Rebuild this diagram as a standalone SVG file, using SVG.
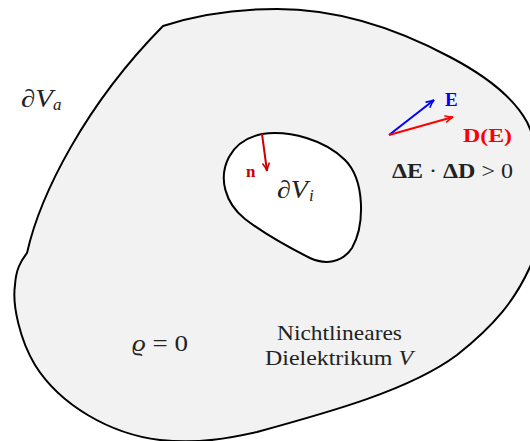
<svg xmlns="http://www.w3.org/2000/svg" width="530" height="441" viewBox="0 0 530 441">
<defs>
<style>
.shape{stroke:#000;stroke-width:2;stroke-linejoin:round}
.math{font-family:"Liberation Serif","DejaVu Serif",serif;fill:#222}
.it{font-style:italic}
.bold{font-weight:bold}
.vec{stroke-width:2;fill:none}
</style>
<marker id="arB" viewBox="0 0 10 10" refX="9" refY="5" markerWidth="10" markerHeight="10" markerUnits="userSpaceOnUse" orient="auto">
<path d="M1,1.5 Q5,4 9,5 Q5,6 1,8.5" fill="none" stroke="#0000ff" stroke-width="1.6"/>
</marker>
<marker id="arR" viewBox="0 0 10 10" refX="9" refY="5" markerWidth="10" markerHeight="10" markerUnits="userSpaceOnUse" orient="auto">
<path d="M1,1.5 Q5,4 9,5 Q5,6 1,8.5" fill="none" stroke="#ff0000" stroke-width="1.6"/>
</marker>
<marker id="arN" viewBox="0 0 10 10" refX="9" refY="5" markerWidth="10" markerHeight="10" markerUnits="userSpaceOnUse" orient="auto">
<path d="M1,1.5 Q5,4 9,5 Q5,6 1,8.5" fill="none" stroke="#cc0000" stroke-width="1.6"/>
</marker>
</defs>
<rect width="530" height="441" fill="#fff"/>
<g id="outer-region">
<path class="shape" fill="#f2f2f2" d="M163,26 C200,14 240,9 277,9 C330,9 390,25 450,57 C490,78 515,100 527,122 C545,160 548,225 530,267 C515,300 495,325 457,355 C410,390 330,412 257,432 C230,438 200,444 160,440 C110,434 60,405 35,365 C20,340 12,305 15,285 C16,270 20,262 27,253 C40,195 85,105 163,26 Z"/>
</g>
<g id="inner-hole">
<path class="shape" fill="#fff" d="M262,134 C290,130 325,140 345,160 C365,180 365,225 352,248 C342,263 325,265 310,258 C290,248 262,232 245,219 C225,203 218,178 229,157 C236,144 248,137 262,134 Z"/>
</g>
<g id="connectors">
<line class="vec" x1="389" y1="135" x2="434" y2="100" stroke="#0000ff" marker-end="url(#arB)"/>
<line class="vec" x1="389" y1="135" x2="453" y2="117" stroke="#ff0000" marker-end="url(#arR)"/>
<line class="vec" x1="262" y1="134" x2="267" y2="171" stroke="#cc0000" marker-end="url(#arN)"/>
</g>
<g id="labels">
<text class="math it" x="21" y="107" font-size="25" textLength="32" lengthAdjust="spacingAndGlyphs">∂V</text>
<text class="math it" x="53" y="110" font-size="17">a</text>
<text class="math it" x="277" y="198" font-size="25" textLength="31" lengthAdjust="spacingAndGlyphs">∂V</text>
<text class="math it" x="309" y="201" font-size="17">i</text>
<text class="math bold" x="246" y="177" font-size="17" style="fill:#cc0000">n</text>
<text class="math bold" x="445" y="106" font-size="19" style="fill:#0000ff">E</text>
<text class="math bold" x="463" y="142" font-size="18" textLength="49" lengthAdjust="spacingAndGlyphs" style="fill:#ff0000">D(E)</text>
<text class="math" x="392" y="178" font-size="20" textLength="121" lengthAdjust="spacingAndGlyphs"><tspan class="bold">ΔE</tspan> · <tspan class="bold">ΔD</tspan> &gt; 0</text>
<text class="math" x="132" y="351" font-size="24" textLength="56" lengthAdjust="spacingAndGlyphs"><tspan class="it">ϱ</tspan> = 0</text>
<text class="math" x="277" y="340" font-size="21" textLength="125" lengthAdjust="spacingAndGlyphs">Nichtlineares</text>
<text class="math" x="265" y="365" font-size="21" textLength="148" lengthAdjust="spacingAndGlyphs">Dielektrikum <tspan class="it">V</tspan></text>
</g>
</svg>
